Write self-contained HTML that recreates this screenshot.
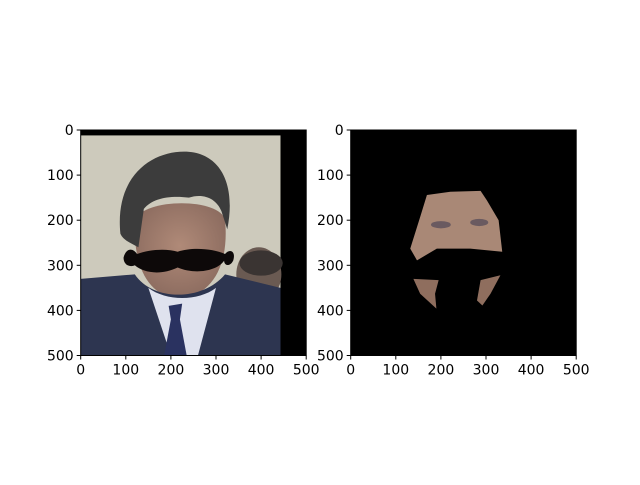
<!DOCTYPE html>
<html><head><meta charset="utf-8"><style>
body{margin:0;background:#fff;width:640px;height:480px;overflow:hidden}
svg text{font-family:"DejaVu Sans","Liberation Sans",sans-serif;font-size:14px;fill:#000}
</style></head><body>
<svg id="fig" width="640" height="480" xmlns="http://www.w3.org/2000/svg">
<defs>
<clipPath id="c1"><rect x="0" y="0" width="500" height="500"/></clipPath>
<radialGradient id="skin" cx="0.5" cy="0.45" r="0.6"><stop offset="0" stop-color="#b08a78"/><stop offset="1" stop-color="#8a6a5e"/></radialGradient>
</defs>
<g transform="translate(80.7,130) scale(0.451)" clip-path="url(#c1)">
<rect width="500" height="500" fill="#000"/>
<rect x="0" y="12" width="443" height="488" fill="#cdcabc"/>
<ellipse cx="395" cy="320" rx="50" ry="60" fill="#6a5a52"/>
<ellipse cx="400" cy="295" rx="48" ry="28" fill="#3a3432"/>
<path d="M120,200 C115,300 150,370 215,372 C290,372 330,300 320,200 C310,150 140,150 120,200 Z" fill="url(#skin)"/>
<path d="M88,230 C75,100 160,45 235,48 C310,52 345,120 325,220 L312,180 C300,150 270,140 240,150 C200,145 160,150 140,175 L128,260 C110,250 95,245 88,230 Z" fill="#3c3c3c"/>
<path d="M0,330 L120,320 C160,380 270,380 320,320 L443,350 L443,500 L0,500 Z" fill="#2d3550"/>
<path d="M150,350 L200,500 L260,500 L300,350 C260,380 190,380 150,350 Z" fill="#dfe2ee"/>
<path d="M195,390 L225,385 L220,420 L235,500 L185,500 L200,420 Z" fill="#2a3260"/>
<path d="M95,283 C100,262 115,260 125,275 C150,265 190,262 215,270 C245,260 290,262 320,275 C330,262 345,268 338,290 C330,305 318,300 318,290 C300,315 250,320 215,305 C180,322 140,318 120,300 C110,305 95,300 95,283 Z" fill="#0d0909"/>
</g>
<g transform="translate(350.7,130) scale(0.451)" clip-path="url(#c1)">
<rect width="500" height="500" fill="#000"/>
<polygon points="169,144 221,137 288,135 302,156 328,200 336,270 265,263 191,263 147,289 132,263 154,193" fill="#a98876"/>
<ellipse cx="200" cy="210" rx="22" ry="8" fill="#6a5a60"/>
<ellipse cx="285" cy="205" rx="20" ry="8" fill="#6a5a60"/>
<polygon points="139,330 195,333 187,363 190,396 154,363" fill="#8f6e5e"/>
<polygon points="288,333 332,322 310,363 292,389 280,378" fill="#8f6e5e"/>
</g>
<g id="axes"></g>
</svg>
<script>
const ticks=[0,100,200,300,400,500];
const tickLabels=["0","100","200","300","400","500"];
const axesLeft=[80.7,350.7];
const g=document.getElementById('axes');
const NS='http://www.w3.org/2000/svg';
const top0=130,size=225.5;
function mk(t,a){const e=document.createElementNS(NS,t);for(const k in a)e.setAttribute(k,a[k]);g.appendChild(e);return e;}
axesLeft.forEach((x0,ai)=>{
  const f=mk('rect',{x:x0,y:top0,width:size,height:size,fill:'none',stroke:'#000','stroke-width':1});
  
  
  ticks.forEach((v,i)=>{
    const px=x0+v/500*size, py=top0+v/500*size;
    const tx=mk('line',{x1:px,x2:px,y1:top0+size,y2:top0+size+4,stroke:'#000'});
    
    
    const lx=mk('text',{x:px,y:top0+size+19,'text-anchor':'middle'});lx.textContent=tickLabels[i];
    
    
    const ty=mk('line',{x1:x0-4,x2:x0,y1:py,y2:py,stroke:'#000'});
    
    
    const ly=mk('text',{x:x0-7,y:py+5,'text-anchor':'end'});ly.textContent=tickLabels[i];
    
    
  });
});
</script>
</body></html>
